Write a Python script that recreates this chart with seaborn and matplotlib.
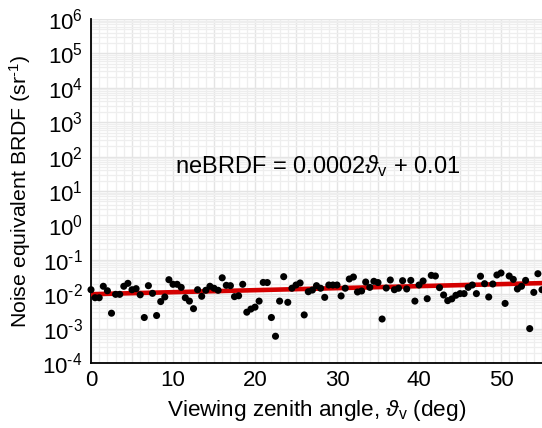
import numpy as np
import pandas as pd
import matplotlib
matplotlib.use("Agg")
import matplotlib.pyplot as plt
import seaborn as sns
from matplotlib.ticker import LogLocator, MultipleLocator, FuncFormatter, NullFormatter

# ---- data ----
angles = np.arange(0, 55.01, 0.5)
nebrdf = [
    0.0135, 0.0079, 0.0079, 0.017, 0.0126, 0.0028, 0.0099, 0.0099, 0.017, 0.0207,
    0.0135, 0.0145, 0.0096, 0.0021, 0.0177, 0.0106, 0.0024, 0.0061, 0.0083, 0.0264,
    0.0194, 0.0194, 0.0158, 0.0079, 0.0063, 0.0038, 0.0135, 0.0087, 0.013, 0.017,
    0.0149, 0.013, 0.030, 0.0181, 0.0177, 0.0085, 0.0090, 0.0194, 0.0030, 0.0037,
    0.0042, 0.0063, 0.022, 0.0218, 0.0021, 0.0006, 0.0063, 0.0323, 0.0058, 0.0149,
    0.0185, 0.0212, 0.0025, 0.0118, 0.0132, 0.0177, 0.0149, 0.0081, 0.0185, 0.0185,
    0.0185, 0.0089, 0.0149, 0.0277, 0.0316, 0.0116, 0.0124, 0.0226, 0.0158, 0.0237,
    0.0218, 0.0019, 0.0151, 0.0259, 0.0135, 0.0149, 0.0247, 0.0142, 0.0252, 0.0063,
    0.0185, 0.0242, 0.0074, 0.0353, 0.0338, 0.0155, 0.0095, 0.0065, 0.0073, 0.0093,
    0.0104, 0.0104, 0.0158, 0.0185, 0.0104, 0.0333, 0.0202, 0.0083, 0.0198, 0.0362,
    0.0413, 0.0054, 0.0338, 0.027, 0.0142, 0.017, 0.0252, 0.0010, 0.0113, 0.0394,
    0.0135,
]
fit_x = [0, 55]
fit_y = [0.01, 0.021]
annotation = r"neBRDF = 0.0002$\vartheta_\mathrm{v}$ + 0.01"
xlabel = r"Viewing zenith angle, $\vartheta_\mathrm{v}$ (deg)"
ylabel = r"Noise equivalent BRDF (sr$^{\text{-1}}$)"

df_pts = pd.DataFrame({"angle": angles, "nebrdf": nebrdf})
df_fit = pd.DataFrame({"angle": fit_x, "nebrdf": fit_y})

sns.set_style("white")
plt.rcParams["font.family"] = ["Liberation Sans", "DejaVu Sans"]
plt.rcParams["mathtext.fontset"] = "custom"
plt.rcParams["mathtext.rm"] = "Liberation Sans"
plt.rcParams["mathtext.it"] = "Liberation Sans:italic"
plt.rcParams["mathtext.bf"] = "Liberation Sans:bold"
plt.rcParams["mathtext.fallback"] = "stixsans"
plt.rcParams["text.color"] = "black"
plt.rcParams["axes.labelcolor"] = "black"
plt.rcParams["xtick.color"] = "black"
plt.rcParams["ytick.color"] = "black"

fig = plt.figure(figsize=(5.42, 4.28), dpi=100)
ax = fig.add_axes([91 / 542, 1 - 363 / 428, 1 - 91 / 542, (363 - 19) / 428])

ax.set_yscale("log")
ax.set_xlim(0, 55)
ax.set_ylim(1e-4, 1e6)


def ylab(v, p):
    e = int(round(np.log10(v)))
    return r"$10^{\text{%d}}$" % e


ax.xaxis.set_major_locator(MultipleLocator(5))
ax.xaxis.set_minor_locator(MultipleLocator(1))
ax.xaxis.set_major_formatter(FuncFormatter(lambda v, p: f"{int(round(v))}" if int(round(v)) % 10 == 0 else ""))
ax.yaxis.set_major_locator(LogLocator(base=10, numticks=20))
ax.yaxis.set_minor_locator(LogLocator(base=10, subs=np.arange(2, 10), numticks=200))
ax.yaxis.set_major_formatter(FuncFormatter(ylab))
ax.yaxis.set_minor_formatter(NullFormatter())
ax.grid(True, which="major", color="#e4e4e4", linewidth=1.0)
ax.grid(True, which="minor", color="#eeeeee", linewidth=0.9)
ax.set_axisbelow(True)

sns.lineplot(data=df_fit, x="angle", y="nebrdf", ax=ax, color="#d40000", linewidth=3.3, zorder=3)
sns.scatterplot(data=df_pts, x="angle", y="nebrdf", ax=ax, color="black", s=26, edgecolor="none", zorder=4, clip_on=False)

ax.text(27.6, 53, annotation, ha="center", va="center", fontsize=17, color="black")

ax.set_xlabel(xlabel, fontsize=16.2, labelpad=5, color="black")
ax.set_ylabel(ylabel, fontsize=15.3, labelpad=7, color="black")

for s in ["top", "right"]:
    ax.spines[s].set_visible(False)
for s in ["left", "bottom"]:
    ax.spines[s].set_color("black")
    ax.spines[s].set_linewidth(1.3)

ax.tick_params(axis="both", which="major", direction="in", length=6, width=1.2, labelsize=16, colors="black")
ax.tick_params(axis="both", which="minor", length=0)
ax.tick_params(axis="x", pad=5)
ax.tick_params(axis="y", pad=6)

fig.savefig("out.png", dpi=100)
